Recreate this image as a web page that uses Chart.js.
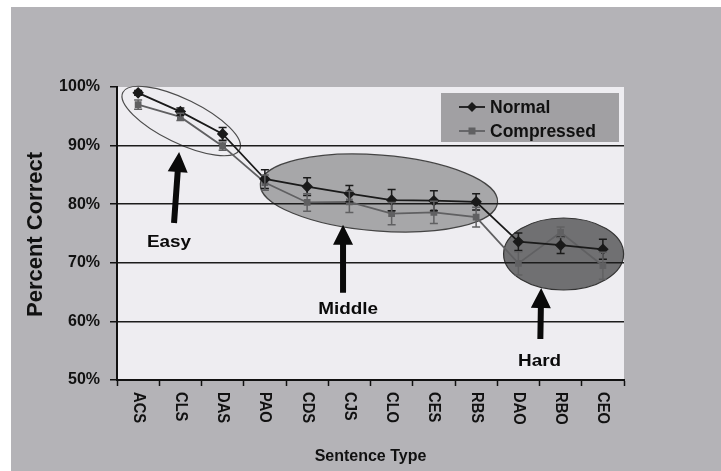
<!DOCTYPE html>
<html>
<head>
<meta charset="utf-8">
<script src="https://cdn.jsdelivr.net/npm/chart.js@4.4.1/dist/chart.umd.min.js"></script>
<style>
  html, body { margin: 0; padding: 0; background: #fff; }
  #wrap { width: 721px; height: 471px; position: relative; }
</style>
</head>
<body>
<div id="wrap"><canvas id="c" width="721" height="471"></canvas></div>
<script>
// Sentence types on the x axis
const categories = ['ACS', 'CLS', 'DAS', 'PAO', 'CDS', 'CJS', 'CLO', 'CES', 'RBS', 'DAO', 'RBO', 'CEO'];

// Percent correct per sentence type, with the half-height of each error bar
const normalValues     = [99.0, 95.8, 92.0, 84.3, 83.0, 81.8, 80.7, 80.6, 80.4, 73.6, 73.0, 72.3];
const normalErrors     = [0.4, 0.6, 1.1, 1.6, 1.5, 1.4, 1.8, 1.7, 1.4, 1.5, 1.4, 1.7];
const compressedValues = [97.0, 94.9, 89.9, 83.7, 80.3, 80.4, 78.4, 78.6, 77.8, 69.9, 75.2, 69.5];
const compressedErrors = [0.8, 0.6, 0.7, 1.3, 1.5, 1.8, 1.9, 1.9, 1.7, 2.0, 0.9, 2.3];

// Y axis range and tick step (percent)
const yMin = 50, yMax = 100, yStep = 10;

// Difficulty group names
const groupNames = ['Easy', 'Middle', 'Hard'];

const FONT = '"Liberation Sans", Arial, Helvetica, sans-serif';

// Group outlines and pointer arrows, placed in axis units (category index, percent)
const groups = [
  { name: groupNames[0], cx: 1.02, cy: 94.2, rx: 65, ry: 22, tilt: 26, fill: null, stroke: '#4c4c4c',
    tip: [0.97, 88.9], tail: [0.85, 76.8], label: [0.73, 73.4] },
  { name: groupNames[1], cx: 5.70, cy: 81.9, rx: 119, ry: 38, tilt: 4.5, fill: '#a7a7a9', stroke: '#444',
    tip: [4.85, 76.5], tail: [4.85, 64.9], label: [4.97, 62.1] },
  { name: groupNames[2], cx: 10.07, cy: 71.5, rx: 60, ry: 36, tilt: 0, fill: '#707072', stroke: '#333',
    tip: [9.54, 65.7], tail: [9.52, 57.0], label: [9.50, 53.2] }
];

// Background panel, plot area and the shaded group ellipses (under gridlines and lines)
const backdrop = {
  id: 'backdrop',
  beforeDraw(chart) {
    const { ctx, chartArea: a, scales: { x, y } } = chart;
    ctx.save();
    ctx.fillStyle = '#ffffff';
    ctx.fillRect(0, 0, chart.width, chart.height);
    ctx.fillStyle = '#b4b3b7';
    ctx.fillRect(11, 7, chart.width - 11, chart.height - 7);
    ctx.fillStyle = '#eeedf1';
    ctx.fillRect(a.left, a.top, a.right - a.left, a.bottom - a.top);
    groups.forEach(g => {
      ctx.beginPath();
      ctx.ellipse(x.getPixelForValue(g.cx), y.getPixelForValue(g.cy), g.rx, g.ry,
                  g.tilt * Math.PI / 180, 0, Math.PI * 2);
      if (g.fill) { ctx.fillStyle = g.fill; ctx.fill(); }
      ctx.lineWidth = 1.2;
      ctx.strokeStyle = g.stroke;
      ctx.stroke();
    });
    ctx.restore();
  }
};

// Vertical error bars with caps for each point
const errorBars = {
  id: 'errorBars',
  afterDatasetsDraw(chart) {
    const { ctx, scales: { y } } = chart;
    ctx.save();
    chart.data.datasets.forEach((ds, di) => {
      const meta = chart.getDatasetMeta(di);
      ctx.strokeStyle = ds.borderColor;
      ctx.lineWidth = 1.5;
      meta.data.forEach((pt, i) => {
        const v = ds.data[i], e = ds.errors[i];
        const top = y.getPixelForValue(v + e), bot = y.getPixelForValue(v - e);
        ctx.beginPath();
        ctx.moveTo(pt.x, top); ctx.lineTo(pt.x, bot);
        ctx.moveTo(pt.x - 4, top); ctx.lineTo(pt.x + 4, top);
        ctx.moveTo(pt.x - 4, bot); ctx.lineTo(pt.x + 4, bot);
        ctx.stroke();
      });
    });
    ctx.restore();
  }
};

function wideText(ctx, text, x, y, font, sx) {
  ctx.save();
  ctx.translate(x, y);
  ctx.scale(sx, 1);
  ctx.font = font;
  ctx.textAlign = 'center';
  ctx.textBaseline = 'middle';
  ctx.fillText(text, 0, 0);
  ctx.restore();
}

function arrow(ctx, x1, y1, x2, y2) {
  // from tail (x1,y1) to tip (x2,y2)
  const dx = x2 - x1, dy = y2 - y1, len = Math.hypot(dx, dy);
  const ux = dx / len, uy = dy / len, nx = -uy, ny = ux;
  const headLen = 20, headW = 10, shaftW = 3;
  const bx = x2 - ux * headLen, by = y2 - uy * headLen;
  ctx.beginPath();
  ctx.moveTo(x1 + nx * shaftW, y1 + ny * shaftW);
  ctx.lineTo(bx + nx * shaftW, by + ny * shaftW);
  ctx.lineTo(bx + nx * headW, by + ny * headW);
  ctx.lineTo(x2, y2);
  ctx.lineTo(bx - nx * headW, by - ny * headW);
  ctx.lineTo(bx - nx * shaftW, by - ny * shaftW);
  ctx.lineTo(x1 - nx * shaftW, y1 - ny * shaftW);
  ctx.closePath();
  ctx.fill();
}

// Axis texts, vertical category labels, legend box, arrows and group labels
const overlay = {
  id: 'overlay',
  afterDraw(chart) {
    const { ctx, chartArea: a, scales: { x, y } } = chart;
    ctx.save();
    ctx.fillStyle = '#111';

    // category labels, reading downward
    categories.forEach((c, i) => {
      ctx.save();
      ctx.translate(x.getPixelForValue(i), a.bottom + 12);
      ctx.rotate(Math.PI / 2);
      ctx.scale(0.92, 1);
      ctx.font = 'bold 16px ' + FONT;
      ctx.textAlign = 'left';
      ctx.textBaseline = 'middle';
      ctx.fillText(c, 0, 0);
      ctx.restore();
    });

    // axis titles
    ctx.font = 'bold 16px ' + FONT;
    ctx.textAlign = 'center';
    ctx.textBaseline = 'middle';
    ctx.fillText('Sentence Type', (a.left + a.right) / 2, 457);
    ctx.save();
    ctx.translate(36, (a.top + a.bottom) / 2 + 1);
    ctx.rotate(-Math.PI / 2);
    ctx.font = 'bold 22px ' + FONT;
    ctx.fillText('Percent Correct', 0, 0);
    ctx.restore();

    // arrows and group names
    groups.forEach(g => {
      ctx.fillStyle = '#0a0a0a';
      arrow(ctx, x.getPixelForValue(g.tail[0]), y.getPixelForValue(g.tail[1]),
                 x.getPixelForValue(g.tip[0]), y.getPixelForValue(g.tip[1]));
      wideText(ctx, g.name, x.getPixelForValue(g.label[0]), y.getPixelForValue(g.label[1]),
               'bold 16px ' + FONT, 1.18);
    });

    // legend
    const bx = a.right - 183, by = a.top + 6;
    ctx.fillStyle = '#a1a0a3';
    ctx.fillRect(bx, by, 178, 49);
    chart.data.datasets.forEach((ds, i) => {
      const ly = by + 14 + i * 24;
      ctx.strokeStyle = ds.borderColor;
      ctx.lineWidth = 1.8;
      ctx.beginPath();
      ctx.moveTo(bx + 18, ly); ctx.lineTo(bx + 44, ly);
      ctx.stroke();
      ctx.fillStyle = ds.pointBackgroundColor;
      const mx = bx + 31;
      if (ds.pointStyle === 'rectRot') {
        ctx.beginPath();
        ctx.moveTo(mx, ly - 5); ctx.lineTo(mx + 5, ly); ctx.lineTo(mx, ly + 5); ctx.lineTo(mx - 5, ly);
        ctx.closePath(); ctx.fill();
      } else {
        ctx.fillRect(mx - 3.5, ly - 3.5, 7, 7);
      }
      ctx.fillStyle = '#111';
      ctx.font = 'bold 17.5px ' + FONT;
      ctx.textAlign = 'left';
      ctx.textBaseline = 'middle';
      ctx.fillText(ds.label, bx + 49, ly + 1);
    });
    ctx.restore();
  }
};

new Chart(document.getElementById('c'), {
  type: 'line',
  data: {
    labels: categories,
    datasets: [
      {
        label: 'Normal',
        data: normalValues,
        errors: normalErrors,
        borderColor: '#1a1a1a',
        backgroundColor: '#1a1a1a',
        pointBackgroundColor: '#1a1a1a',
        pointBorderColor: '#1a1a1a',
        pointStyle: 'rectRot',
        pointRadius: 4.5,
        borderWidth: 1.8,
        tension: 0
      },
      {
        label: 'Compressed',
        data: compressedValues,
        errors: compressedErrors,
        borderColor: '#606062',
        backgroundColor: '#606062',
        pointBackgroundColor: '#606062',
        pointBorderColor: '#606062',
        pointStyle: 'rect',
        pointRadius: 3.5,
        borderWidth: 1.8,
        tension: 0
      }
    ]
  },
  options: {
    responsive: false,
    animation: false,
    devicePixelRatio: 1,
    layout: { padding: { top: 87, right: 97, left: 0, bottom: 0 } },
    plugins: { legend: { display: false }, tooltip: { enabled: false } },
    scales: {
      x: {
        type: 'category',
        offset: true,
        grid: { offset: true, drawOnChartArea: false, drawTicks: true, tickLength: 6, tickColor: '#111', tickWidth: 1.5 },
        border: { display: true, color: '#111', width: 2 },
        ticks: { display: false },
        afterFit(s) { s.height = 91; }
      },
      y: {
        min: yMin,
        max: yMax,
        ticks: {
          stepSize: yStep,
          callback: v => v + '%',
          color: '#111',
          padding: 10,
          font: { family: FONT, size: 16, weight: 'bold' }
        },
        grid: {
          color: c => (c.tick && c.tick.value === yMax) ? 'rgba(0,0,0,0)' : '#1c1c1c',
          lineWidth: 1.5,
          tickLength: 7,
          tickColor: '#111',
          tickWidth: 1.5
        },
        border: { color: '#111', width: 2 },
        afterFit(s) { s.width = 117; }
      }
    }
  },
  plugins: [backdrop, errorBars, overlay]
});
</script>
</body>
</html>
